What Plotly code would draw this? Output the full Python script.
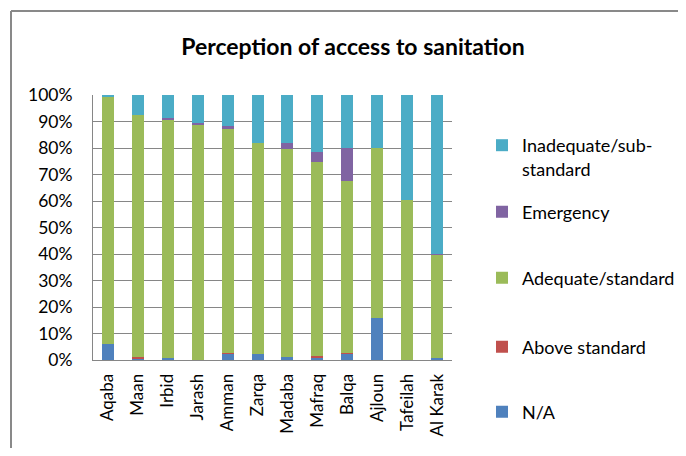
import plotly.graph_objects as go

categories = ["Aqaba", "Maan", "Irbid", "Jarash", "Amman", "Zarqa", "Madaba",
              "Mafraq", "Balqa", "Ajloun", "Tafeilah", "Al Karak"]

na_vals        = [6.0, 0.6, 0.6, 0.0, 2.3, 2.1, 1.1, 1.1, 2.3, 16.0, 0.0, 0.6]
above_vals     = [0.0, 0.4, 0.0, 0.0, 0.5, 0.0, 0.0, 0.5, 0.5, 0.0, 0.0, 0.0]
adequate_vals  = [93.5, 91.5, 89.9, 88.6, 84.4, 79.8, 78.4, 73.1, 64.8, 63.9, 60.3, 39.3]
emergency_vals = [0.0, 0.0, 1.0, 0.9, 1.0, 0.0, 2.4, 3.8, 12.3, 0.0, 0.0, 0.2]
inadequate_vals = [0.5, 7.5, 8.5, 10.5, 11.8, 18.1, 18.1, 21.5, 20.1, 20.1, 39.7, 59.9]

series_names = ["N/A", "Above standard", "Adequate/standard", "Emergency",
                "Inadequate/sub-<br>standard"]
series_values = [na_vals, above_vals, adequate_vals, emergency_vals, inadequate_vals]
series_colors = ["#4F81BD", "#C0504D", "#9BBB59", "#8064A2", "#4BACC6"]

FONT = "Lato, 'Open Sans', sans-serif"

# page is rendered with an 8px body margin; compensate so nothing overflows
OFF = 8
L, T, PW, PH = 93 - OFF, 95 - OFF, 359, 265
W, H = 686 - 2 * OFF, 456 - 2 * OFF

# legend centre positions (page px) for each series
legend_page_y = [412, 347, 278, 212, 157]
legend_keys = ["legend", "legend2", "legend3", "legend4", "legend5"]

fig = go.Figure()
for name, vals, color, key in zip(series_names, series_values, series_colors, legend_keys):
    fig.add_trace(go.Bar(
        x=categories, y=vals, name=name,
        marker=dict(color=color, line=dict(width=0)),
        legend=key,
    ))

legend_x = (482 - 93) / PW
legend_layout = {}
for key, py in zip(legend_keys, legend_page_y):
    legend_layout[key] = dict(
        x=legend_x, xanchor="left", y=(360 - py) / PH, yanchor="middle",
        font=dict(family=FONT, size=18, color="#000000"),
        itemwidth=30, bgcolor="rgba(0,0,0,0)", valign="top",
    )

fig.update_layout(
    width=W, height=H,
    barmode="stack", bargap=0.6,
    paper_bgcolor="white", plot_bgcolor="white",
    margin=dict(l=L, r=W - L - PW, t=T, b=H - T - PH, autoexpand=False),
    title=dict(text="<b>Perception of access to sanitation</b>", x=(353 - OFF) / W,
               xanchor="center", y=1 - (47 - OFF) / H, yanchor="middle",
               font=dict(family=FONT, size=23, color="#000000")),
    font=dict(family=FONT, size=17, color="#000000"),
    showlegend=True,
    xaxis=dict(tickangle=-90, showline=True, linecolor="#868686", linewidth=1,
               tickfont=dict(family=FONT, size=17, color="#000000"), showgrid=False,
               ticklabelstandoff=6),
    yaxis=dict(range=[0, 100], dtick=10, ticksuffix="%", showgrid=True,
               gridcolor="#868686", gridwidth=1, showline=True, linecolor="#868686",
               linewidth=1, zeroline=False, ticklabelstandoff=16,
               tickfont=dict(family=FONT, size=17.5, color="#000000")),
    **legend_layout,
)

# outer chart frame: only top and left edges are visible in the reference
fx0 = (11 - 93) / PW
fy1 = (360 - 11) / PH
fig.add_shape(type="line", xref="paper", yref="paper",
              x0=fx0, x1=(720 - 93) / PW, y0=fy1, y1=fy1,
              line=dict(color="#898989", width=2), layer="below")
fig.add_shape(type="line", xref="paper", yref="paper",
              x0=fx0, x1=fx0, y0=fy1, y1=(360 - 480) / PH,
              line=dict(color="#898989", width=2), layer="below")

fig.write_html("out.html")
